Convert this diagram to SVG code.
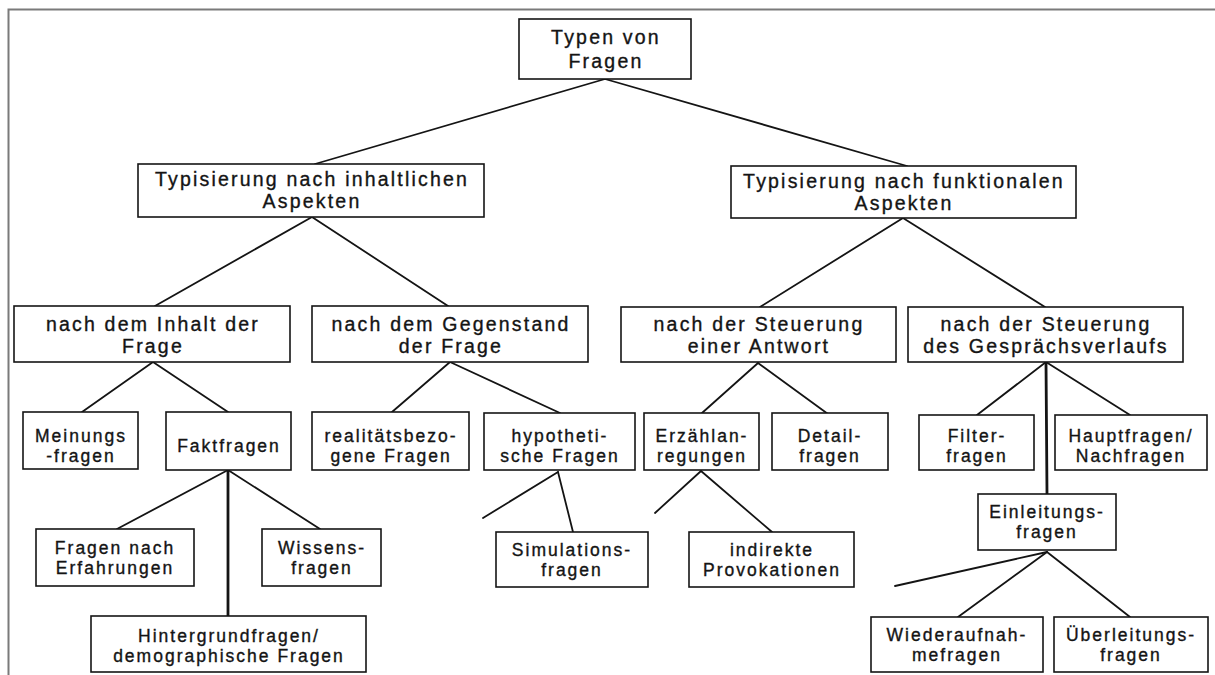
<svg xmlns="http://www.w3.org/2000/svg" width="1215" height="675" viewBox="0 0 1215 675">
  <style>
    .box { fill: #fff; stroke: #141414; stroke-width: 1.6; }
    .c { stroke: #141414; stroke-width: 1.8; fill: none; stroke-linecap: round; }
    .v { stroke-width: 2.8; }
    .frame { stroke: #7a7a7a; stroke-width: 2; fill: none; }
    text { font-family: "Liberation Sans", Arial, Helvetica, sans-serif; fill: #141414; stroke: #141414; stroke-width: 0.35; text-anchor: middle; }
    .big { font-size: 19.5px; letter-spacing: 2.2px; }
    .sm { font-size: 17.5px; letter-spacing: 2px; }
  </style>

  <rect width="1215" height="675" fill="#fff"/>
  <!-- page frame -->
  <path class="frame" d="M8.5 675 V9.5 H1215"/>

  <!-- connectors -->
  <g id="connectors">
    <line class="c" x1="605" y1="79" x2="315" y2="164"/>
    <line class="c" x1="605" y1="79" x2="907" y2="166"/>
    <line class="c" x1="312" y1="217" x2="155" y2="306"/>
    <line class="c" x1="312" y1="217" x2="448" y2="306"/>
    <line class="c" x1="903" y1="218" x2="760" y2="307"/>
    <line class="c" x1="903" y1="218" x2="1045" y2="307"/>
    <line class="c" x1="153" y1="362" x2="82" y2="412"/>
    <line class="c" x1="153" y1="362" x2="228" y2="412"/>
    <line class="c" x1="450" y1="362" x2="392" y2="412"/>
    <line class="c" x1="450" y1="362" x2="560" y2="413"/>
    <line class="c" x1="758" y1="363" x2="702" y2="413"/>
    <line class="c" x1="758" y1="363" x2="828" y2="414"/>
    <line class="c" x1="1046" y1="362" x2="977" y2="415"/>
    <line class="c" x1="1046" y1="362" x2="1130" y2="415"/>
    <line class="c v" x1="1046" y1="362" x2="1047" y2="494"/>
    <line class="c" x1="228" y1="470" x2="117" y2="529"/>
    <line class="c" x1="228" y1="470" x2="320" y2="529"/>
    <line class="c v" x1="228" y1="470" x2="228" y2="616"/>
    <line class="c" x1="558" y1="472" x2="483" y2="518"/>
    <line class="c" x1="558" y1="472" x2="573" y2="532"/>
    <line class="c" x1="701" y1="471" x2="655" y2="513"/>
    <line class="c" x1="701" y1="471" x2="772" y2="532"/>
    <line class="c" x1="1047" y1="552" x2="895" y2="586"/>
    <line class="c" x1="1047" y1="552" x2="958" y2="617"/>
    <line class="c" x1="1047" y1="552" x2="1130" y2="617"/>
  </g>

  <!-- root -->
  <g id="typen-von-fragen">
    <rect class="box" x="519" y="19" width="172" height="60"/>
    <text class="big" x="606" y="44">Typen von</text>
    <text class="big" x="606" y="68">Fragen</text>
  </g>

  <!-- second level -->
  <g id="inhaltliche-aspekte">
    <rect class="box" x="138" y="164" width="346" height="53"/>
    <text class="big" x="312" y="186">Typisierung nach inhaltlichen</text>
    <text class="big" x="312" y="208">Aspekten</text>
  </g>
  <g id="funktionale-aspekte">
    <rect class="box" x="731" y="166" width="345" height="52"/>
    <text class="big" x="904" y="188">Typisierung nach funktionalen</text>
    <text class="big" x="904" y="210">Aspekten</text>
  </g>

  <!-- third level -->
  <g id="inhalt">
    <rect class="box" x="14" y="306" width="276" height="56"/>
    <text class="big" x="153" y="331">nach dem Inhalt der</text>
    <text class="big" x="153" y="353">Frage</text>
  </g>
  <g id="gegenstand">
    <rect class="box" x="312" y="306" width="276" height="56"/>
    <text class="big" x="451" y="331">nach dem Gegenstand</text>
    <text class="big" x="451" y="353">der Frage</text>
  </g>
  <g id="steuerung-antwort">
    <rect class="box" x="621" y="307" width="275" height="55"/>
    <text class="big" x="759" y="331">nach der Steuerung</text>
    <text class="big" x="759" y="353">einer Antwort</text>
  </g>
  <g id="steuerung-gespraech">
    <rect class="box" x="908" y="307" width="275" height="55"/>
    <text class="big" x="1046" y="331">nach der Steuerung</text>
    <text class="big" x="1046" y="353">des Gesprächsverlaufs</text>
  </g>

  <!-- fourth level -->
  <g id="meinungsfragen">
    <rect class="box" x="23" y="412" width="115" height="57"/>
    <text class="sm" x="81" y="442">Meinungs</text>
    <text class="sm" x="81" y="462">-fragen</text>
  </g>
  <g id="faktfragen">
    <rect class="box" x="166" y="412" width="125" height="58"/>
    <text class="sm" x="229" y="452">Faktfragen</text>
  </g>
  <g id="realitaetsbezogene">
    <rect class="box" x="312" y="412" width="157" height="58"/>
    <text class="sm" x="391" y="442">realitätsbezo-</text>
    <text class="sm" x="391" y="462">gene Fragen</text>
  </g>
  <g id="hypothetische">
    <rect class="box" x="484" y="413" width="151" height="57"/>
    <text class="sm" x="560" y="442">hypotheti-</text>
    <text class="sm" x="560" y="462">sche Fragen</text>
  </g>
  <g id="erzaehlanregungen">
    <rect class="box" x="644" y="413" width="115" height="57"/>
    <text class="sm" x="702" y="442">Erzählan-</text>
    <text class="sm" x="702" y="462">regungen</text>
  </g>
  <g id="detailfragen">
    <rect class="box" x="772" y="413" width="116" height="57"/>
    <text class="sm" x="830" y="442">Detail-</text>
    <text class="sm" x="830" y="462">fragen</text>
  </g>
  <g id="filterfragen">
    <rect class="box" x="919" y="415" width="115" height="55"/>
    <text class="sm" x="977" y="442">Filter-</text>
    <text class="sm" x="977" y="462">fragen</text>
  </g>
  <g id="hauptfragen">
    <rect class="box" x="1055" y="415" width="152" height="55"/>
    <text class="sm" x="1131" y="442">Hauptfragen/</text>
    <text class="sm" x="1131" y="462">Nachfragen</text>
  </g>

  <!-- fifth level -->
  <g id="erfahrungen">
    <rect class="box" x="36" y="529" width="158" height="57"/>
    <text class="sm" x="115" y="554">Fragen nach</text>
    <text class="sm" x="115" y="574">Erfahrungen</text>
  </g>
  <g id="wissensfragen">
    <rect class="box" x="262" y="529" width="119" height="57"/>
    <text class="sm" x="322" y="554">Wissens-</text>
    <text class="sm" x="322" y="574">fragen</text>
  </g>
  <g id="hintergrundfragen">
    <rect class="box" x="91" y="616" width="275" height="56"/>
    <text class="sm" x="229" y="642">Hintergrundfragen/</text>
    <text class="sm" x="229" y="662">demographische Fragen</text>
  </g>
  <g id="simulationsfragen">
    <rect class="box" x="496" y="532" width="152" height="55"/>
    <text class="sm" x="572" y="556">Simulations-</text>
    <text class="sm" x="572" y="576">fragen</text>
  </g>
  <g id="provokationen">
    <rect class="box" x="689" y="532" width="165" height="55"/>
    <text class="sm" x="772" y="556">indirekte</text>
    <text class="sm" x="772" y="576">Provokationen</text>
  </g>
  <g id="einleitungsfragen">
    <rect class="box" x="978" y="494" width="138" height="56"/>
    <text class="sm" x="1047" y="518">Einleitungs-</text>
    <text class="sm" x="1047" y="538">fragen</text>
  </g>
  <g id="wiederaufnahmefragen">
    <rect class="box" x="871" y="617" width="172" height="55"/>
    <text class="sm" x="957" y="641">Wiederaufnah-</text>
    <text class="sm" x="957" y="661">mefragen</text>
  </g>
  <g id="ueberleitungsfragen">
    <rect class="box" x="1054" y="617" width="154" height="55"/>
    <text class="sm" x="1131" y="641">Überleitungs-</text>
    <text class="sm" x="1131" y="661">fragen</text>
  </g>
</svg>
